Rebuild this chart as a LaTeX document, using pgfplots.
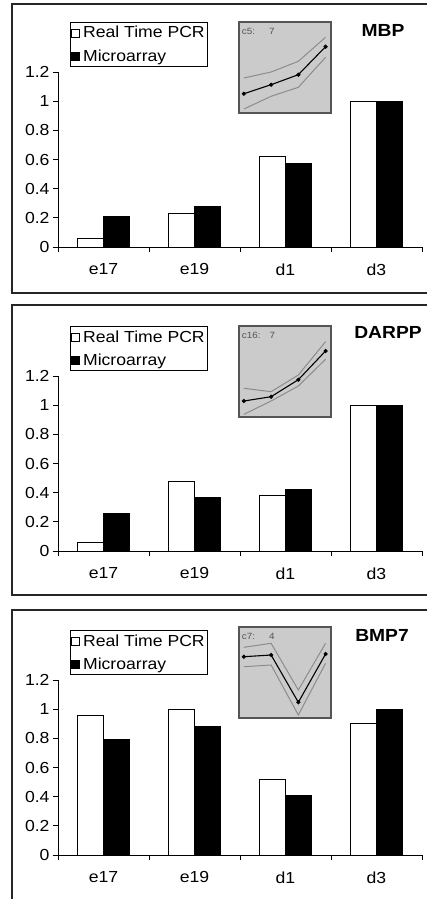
\documentclass[border=0pt]{standalone}
\usepackage{fontspec}
\setmainfont{Liberation Sans}[FakeStretch=1.1]
\usepackage{pgfplots}
\usepackage{pgfplotstable}
\pgfplotsset{compat=1.18}

\definecolor{insetgray}{HTML}{CBCBCB}
\definecolor{envgray}{HTML}{8C8C8C}
\definecolor{framegray}{HTML}{555555}
\newcommand{\fs}{\fontsize{16}{19}\selectfont}
\newcommand{\insetfont}{\fontsize{9}{10}\selectfont}
\newcommand{\titlefont}{\bfseries\fontsize{17.5}{20}\selectfont}

% main bars: relative expression
\pgfplotstableread{
x pcr micro
0 0.06 0.21
1 0.23 0.28
2 0.62 0.57
3 1.00 1.00
}\mbp
\pgfplotstableread{
x pcr micro
0 0.06 0.26
1 0.48 0.37
2 0.38 0.42
3 1.00 1.00
}\darpp
\pgfplotstableread{
x pcr micro
0 0.96 0.79
1 1.00 0.88
2 0.52 0.41
3 0.90 1.00
}\bmp

% cluster insets (mean and envelope)
\pgfplotstableread{
x mid up lo
0 19.3 35.0 4.0
1 28.3 41.0 16.7
2 38.3 51.7 25.7
3 66.3 75.7 55.7
}\mbpin
\pgfplotstableread{
x mid up lo
0 16.0 28.7 2.7
1 20.3 25.3 16.0
2 37.3 42.0 31.0
3 66.0 75.3 57.7
}\darppin
\pgfplotstableread{
x mid up lo
0 61.3 70.7 51.3
1 63.0 74.7 53.0
2 15.7 28.0 3.0
3 64.0 74.7 54.7
}\bmpin

\pgfplotsset{
 barpanel/.style={scale only axis, width=364pt, height=175pt, anchor=south west,
  xmin=-0.5, xmax=3.5, ymin=0, ymax=1.2, axis lines*=left,
  ybar=0pt, bar width=26pt,
  xtick={0,1,2,3}, xticklabels={e17,e19,d1,d3}, major x tick style={draw=none},
  minor xtick={-0.5,0.5,1.5,2.5,3.5},
  ytick={0,0.2,0.4,0.6,0.8,1,1.2},
  tick align=outside, major tick length=5pt, minor tick length=5pt,
  tick style={black, line width=0.8pt}, axis line style={line width=0.8pt},
  tick label style={font=\fs}, xticklabel style={yshift=-8pt},
  /pgf/number format/assume math mode=true,
  legend cell align=left,
  legend style={at={(0.033,1.2857)}, anchor=north west, draw=black,
   line width=0.8pt, font=\fs, inner xsep=1pt, inner ysep=2pt, row sep=6pt,
   /tikz/every odd column/.append style={column sep=1pt}},
  clip=false},
 pcrbar/.style={fill=white, draw=black, line width=0.8pt,
  legend image code/.code={\draw[fill=white,draw=black,line width=0.7pt] (0pt,-4pt) rectangle (8pt,4pt);}},
 micbar/.style={fill=black, draw=black, line width=0.8pt,
  legend image code/.code={\draw[fill=black,draw=black,line width=0.7pt] (0pt,-4pt) rectangle (8pt,4pt);}},
 inset/.style={scale only axis, width=92pt, height=91pt, anchor=south west,
  xmin=-0.18, xmax=3.2, ymin=0, ymax=91, xtick=\empty, ytick=\empty,
  axis background/.style={fill=insetgray},
  axis line style={framegray, line width=1.1pt}},
 envline/.style={envgray, line width=1pt, no marks},
 midline/.style={black, line width=1.1pt, mark=*, mark size=1.5pt},
}

\begin{document}
\begin{tikzpicture}
\useasboundingbox (0,0) rectangle (427pt,-899pt);
\draw[black!85, line width=1.3pt] (430pt,-4pt) -- (12pt,-4pt) -- (12pt,-293pt) -- (430pt,-293pt);
\draw[black!85, line width=1.3pt] (430pt,-305pt) -- (12pt,-305pt) -- (12pt,-595pt) -- (430pt,-595pt);
\draw[black!85, line width=1.3pt] (430pt,-610pt) -- (12pt,-610pt) -- (12pt,-905pt);

% MBP
\begin{axis}[inset, at={(239pt,-113pt)}]
\addplot[envline] table[y=up]{\mbpin};
\addplot[envline] table[y=lo]{\mbpin};
\addplot[midline] table[y=mid]{\mbpin};
\node[anchor=north west, inner sep=0pt, text=framegray, font=\insetfont] at (rel axis cs:0.03,0.93) {c5:\hspace{14pt}7};
\end{axis}
\begin{axis}[barpanel, at={(58pt,-247pt)}]
\addplot[pcrbar] table[y=pcr]{\mbp};
\addplot[micbar] table[y=micro]{\mbp};
\legend{Real Time PCR,Microarray}
\end{axis}
\node[font=\titlefont] at (383pt,-30pt) {MBP};

% DARPP
\begin{axis}[inset, at={(239pt,-417pt)}]
\addplot[envline] table[y=up]{\darppin};
\addplot[envline] table[y=lo]{\darppin};
\addplot[midline] table[y=mid]{\darppin};
\node[anchor=north west, inner sep=0pt, text=framegray, font=\insetfont] at (rel axis cs:0.03,0.93) {c16:\hspace{9pt}7};
\end{axis}
\begin{axis}[barpanel, at={(58pt,-551pt)}]
\addplot[pcrbar] table[y=pcr]{\darpp};
\addplot[micbar] table[y=micro]{\darpp};
\legend{Real Time PCR,Microarray}
\end{axis}
\node[font=\titlefont] at (388pt,-332pt) {DARPP};

% BMP7
\begin{axis}[inset, at={(239pt,-718pt)}]
\addplot[envline] table[y=up]{\bmpin};
\addplot[envline] table[y=lo]{\bmpin};
\addplot[midline] table[y=mid]{\bmpin};
\node[anchor=north west, inner sep=0pt, text=framegray, font=\insetfont] at (rel axis cs:0.03,0.93) {c7:\hspace{14pt}4};
\end{axis}
\begin{axis}[barpanel, at={(58pt,-855pt)}]
\addplot[pcrbar] table[y=pcr]{\bmp};
\addplot[micbar] table[y=micro]{\bmp};
\legend{Real Time PCR,Microarray}
\end{axis}
\node[font=\titlefont] at (382pt,-635pt) {BMP7};
\end{tikzpicture}
\end{document}
